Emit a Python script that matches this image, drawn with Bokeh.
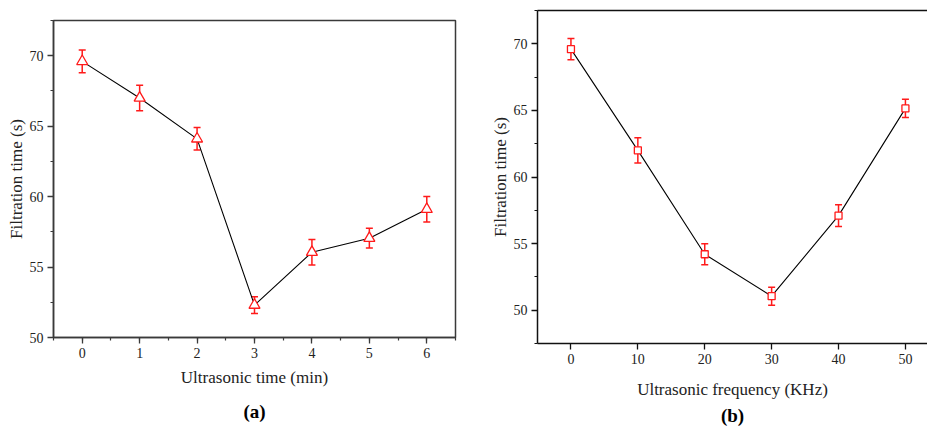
from bokeh.plotting import figure
from bokeh.layouts import row, column
from bokeh.models import (ColumnDataSource, Whisker, TeeHead, SingleIntervalTicker,
                          LinearAxis, FixedTicker, Range1d, Title)
from bokeh.embed import file_html
from bokeh.resources import INLINE

# (a) filtration time vs ultrasonic time
time_min = [0, 1, 2, 3, 4, 5, 6]
time_filtration = [69.6, 67.0, 64.1, 52.3, 56.05, 57.05, 59.1]
time_err = [0.8, 0.9, 0.8, 0.6, 0.9, 0.7, 0.9]

# (b) filtration time vs ultrasonic frequency
freq_khz = [0, 10, 20, 30, 40, 50]
freq_filtration = [69.6, 62.0, 54.2, 51.05, 57.1, 65.15]
freq_err = [0.8, 0.95, 0.78, 0.68, 0.82, 0.68]

FONT = "Liberation Serif"
RED = "#ff1a1a"


def style_axis(ax, color):
    ax.axis_line_color = color
    ax.axis_line_width = 1.5
    ax.major_tick_line_color = color
    ax.minor_tick_line_color = color
    ax.major_tick_line_width = 1.3
    ax.minor_tick_line_width = 1.2
    ax.major_tick_in = 0
    ax.major_tick_out = 6
    ax.minor_tick_in = 0
    ax.minor_tick_out = 3
    ax.major_label_text_font = FONT
    ax.major_label_text_font_size = "14px"
    ax.major_label_text_color = "#222222"
    ax.major_label_standoff = 4
    ax.axis_label_text_font = FONT
    ax.axis_label_text_font_size = "17px"
    ax.axis_label_text_font_style = "normal"
    ax.axis_label_text_color = "#222222"


def make_panel(x, y, err, xr, yr, xtick, xminor, width, border_left, border_top,
               border_right, border_bottom, xlabel, marker, msize, caption, boxed,
               axis_color, label_standoff_x, caption_standoff):
    src = ColumnDataSource(dict(
        x=x, y=y,
        upper=[v + e for v, e in zip(y, err)],
        lower=[v - e for v, e in zip(y, err)],
    ))
    p = figure(width=width, height=439, output_backend="svg", toolbar_location=None,
               x_range=Range1d(*xr), y_range=Range1d(*yr),
               min_border_left=border_left, min_border_top=border_top,
               min_border_right=border_right, min_border_bottom=border_bottom)
    p.grid.visible = False
    p.background_fill_color = "white"
    p.border_fill_color = "white"

    p.xaxis.ticker = SingleIntervalTicker(interval=xtick, num_minor_ticks=xminor)
    p.yaxis.ticker = SingleIntervalTicker(interval=5, num_minor_ticks=2)
    style_axis(p.xaxis[0], axis_color)
    style_axis(p.yaxis[0], axis_color)
    p.xaxis.axis_label = xlabel
    p.yaxis.axis_label = "Filtration time (s)"
    p.xaxis.axis_label_standoff = label_standoff_x
    p.yaxis.axis_label_standoff = 1

    if boxed:
        p.outline_line_color = axis_color
        p.outline_line_width = 1.5
        p.outline_line_alpha = 1
    else:
        # open frame on the right: only a plain top rule
        p.outline_line_color = None
        top = LinearAxis(ticker=FixedTicker(ticks=[]), major_tick_out=0,
                         major_tick_in=0, minor_tick_out=0, minor_tick_in=0,
                         major_label_text_font_size="0px",
                         major_label_standoff=0, axis_label_standoff=0,
                         axis_line_color=axis_color, axis_line_width=1.5)
        p.add_layout(top, "above")

    whisk = Whisker(source=src, base="x", upper="upper", lower="lower",
                    line_color=RED, line_width=1.5, level="underlay",
                    upper_head=TeeHead(size=7, line_color=RED, line_width=1.5),
                    lower_head=TeeHead(size=7, line_color=RED, line_width=1.5))
    p.add_layout(whisk)

    p.line("x", "y", source=src, line_color="black", line_width=1.1)
    p.scatter("x", "y", source=src, marker=marker, size=msize,
              line_color=RED, line_width=1.3, fill_color="white")

    p.add_layout(Title(text=caption, align="center", text_font=FONT,
                       text_font_size="19px", text_font_style="bold",
                       text_color="black", standoff=caption_standoff), "below")
    return p


pa = make_panel(time_min, time_filtration, time_err, (-0.5, 6.5), (50, 72.5),
                1, 2, 460, 53, 20, 5, 102, "Ultrasonic time (min)", "triangle", 11,
                "(a)", True, "#3a3a3a", 7, 19)
pb = make_panel(freq_khz, freq_filtration, freq_err, (-5, 53.3), (47.5, 72.5),
                10, 0, 467, 77, 10, 0, 96, "Ultrasonic frequency (KHz)", "square", 7,
                "(b)", False, "#111111", 13, 2)

# each panel sits in its own column so the two frames keep their own offsets
layout = row(column(pa), column(pb))
open("out.html", "w").write(file_html(layout, INLINE))
